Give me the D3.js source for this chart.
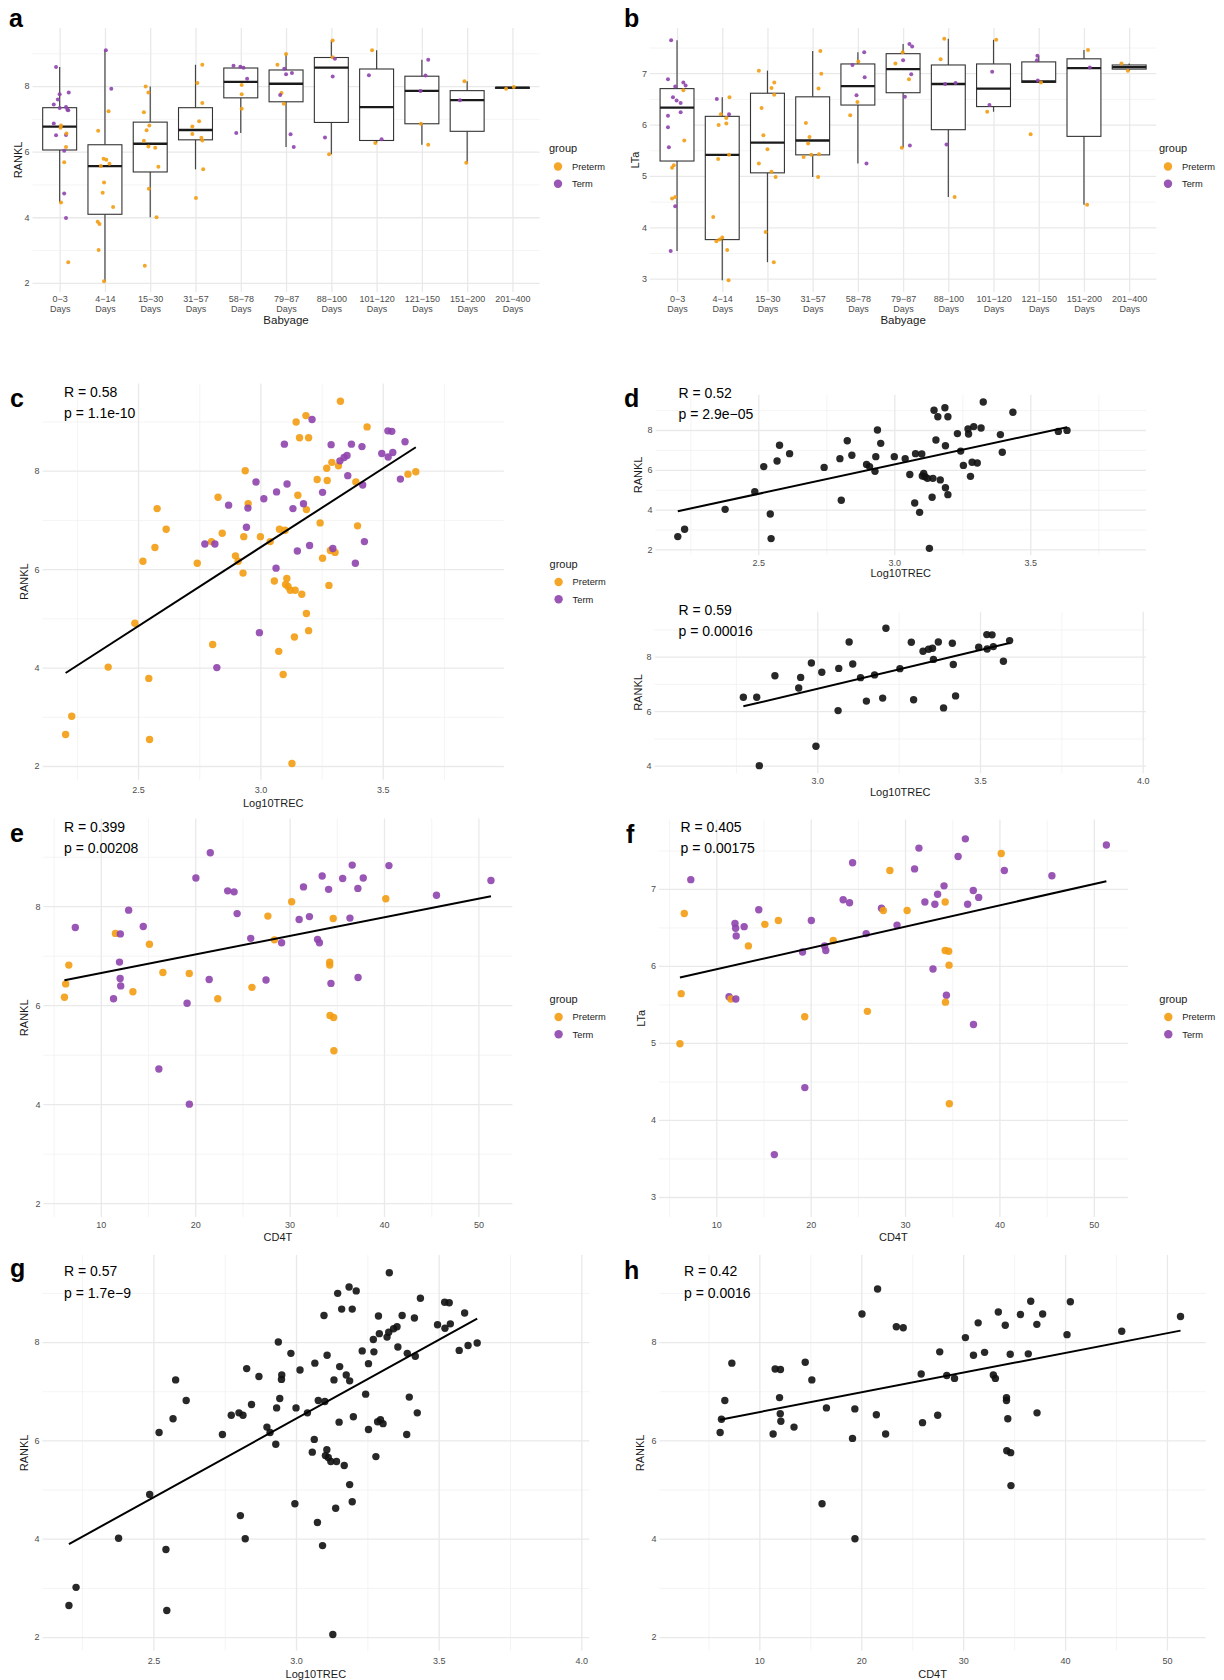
<!DOCTYPE html>
<html>
<head>
<meta charset="utf-8">
<script src="https://cdn.jsdelivr.net/npm/d3@7"></script>
<style>
  body { margin: 0; background: #fff; }
  svg { display: block; }
</style>
</head>
<body>
<svg id="fig" width="1224" height="1680"></svg>
<script>
(() => {
  const FONT = '"Liberation Sans", Arial, Helvetica, sans-serif';
  const svg = d3.select("#fig").style("font-family", FONT);

  // ---------------- data ----------------
  const ageCats = ["0−3", "4−14", "15−30", "31−57", "58−78", "79−87", "88−100", "101−120", "121−150", "151−200", "201−400"];
  const groupNames = ["Preterm", "Term"];
  const groupColors = ["#F39C12", "#8E44AD"];

  // box stats per age class: q1, median, q3, lower whisker, upper whisker
  const ranklBox = [
    [6.05, 6.76, 7.34, 4.45, 8.58],
    [4.09, 5.56, 6.21, 2.05, 9.09],
    [5.38, 6.24, 6.90, 4.00, 7.99],
    [6.36, 6.66, 7.34, 5.46, 8.65],
    [7.64, 8.13, 8.55, 6.57, 8.62],
    [7.52, 8.07, 8.49, 6.14, 8.98],
    [6.89, 8.56, 8.87, 5.92, 9.39],
    [6.34, 7.36, 8.52, 6.26, 9.09],
    [6.85, 7.85, 8.30, 6.21, 8.80],
    [6.62, 7.57, 7.86, 5.66, 8.15],
    [7.93, 7.95, 7.96, 7.92, 7.97]
  ];
  const ltaBox = [
    [5.29, 6.33, 6.70, 3.54, 7.64],
    [3.76, 5.41, 6.16, 2.97, 6.53],
    [5.06, 5.65, 6.61, 3.32, 7.05],
    [5.41, 5.69, 6.54, 4.98, 7.43],
    [6.38, 6.75, 7.18, 5.24, 7.41],
    [6.62, 7.08, 7.38, 5.55, 7.57],
    [5.90, 6.79, 7.16, 4.59, 7.67],
    [6.35, 6.70, 7.18, 6.25, 7.65],
    [6.82, 6.84, 7.22, 6.82, 7.34],
    [5.77, 7.10, 7.28, 4.44, 7.45],
    [7.08, 7.12, 7.16, 7.05, 7.19]
  ];

  // jittered points: [age class, value, group (0 Preterm, 1 Term), jitter offset]
  const ranklAgePts = [
    [0,8.58,1,-0.08],[0,7.75,1,0],[0,7.80,1,0.20],[0,7.44,1,-0.13],[0,7.59,1,-0.04],[0,7.33,1,0],
    [0,7.36,1,0.14],[0,7.28,1,0.17],[0,7.26,1,0.19],[0,6.86,1,-0.13],[0,6.50,1,-0.08],[0,6.51,1,0.14],
    [0,6.03,1,0.10],[0,4.72,1,0.10],[0,3.98,1,0.14],[0,6.80,0,0.03],[0,6.73,0,0.02],[0,6.55,0,0.15],
    [0,6.14,0,0.14],[0,5.68,0,0.10],[0,4.45,0,0.03],[0,2.63,0,0.19],
    [1,9.09,1,0.02],[1,7.92,1,0.14],[1,7.23,0,0.08],[1,6.64,0,-0.15],[1,5.78,0,-0.03],[1,5.75,0,0.03],
    [1,5.63,0,0.10],[1,5.56,0,-0.09],[1,5.06,0,-0.02],[1,4.75,0,-0.05],[1,4.31,0,0.18],[1,3.86,0,-0.16],
    [1,3.79,0,-0.12],[1,3.00,0,-0.14],[1,2.05,0,-0.02],
    [2,7.99,0,-0.10],[2,7.80,0,-0.04],[2,7.20,0,-0.14],[2,6.80,0,-0.02],[2,6.65,0,-0.08],[2,6.33,0,-0.14],
    [2,6.16,0,-0.04],[2,6.12,0,0.11],[2,5.54,0,0.18],[2,4.87,0,-0.03],[2,4.00,0,0.14],[2,2.52,0,-0.12],
    [3,8.65,0,0.15],[3,8.09,0,0.04],[3,7.48,0,0.15],[3,6.93,0,0.08],[3,6.77,0,-0.07],[3,6.54,0,-0.07],
    [3,6.42,0,0.13],[3,6.34,0,0.15],[3,5.46,0,0.17],[3,4.59,0,0.01],
    [4,8.62,1,-0.16],[4,8.59,1,-0.01],[4,8.56,1,0.06],[4,8.22,1,0.14],[4,8.03,0,0.02],[4,7.75,0,0.02],
    [4,7.31,0,0.02],[4,6.57,1,-0.10],
    [5,8.98,0,0],[5,8.65,0,-0.19],[5,8.53,1,-0.04],[5,8.36,1,0],[5,8.40,1,0.13],[5,7.79,0,-0.10],
    [5,7.73,1,-0.13],[5,7.46,0,-0.05],[5,6.53,1,0.10],[5,6.14,1,0.17],
    [6,9.39,0,0.03],[6,8.88,0,0.03],[6,8.83,1,0.08],[6,8.29,1,0.03],[6,6.43,1,-0.14],[6,5.92,0,-0.05],
    [7,9.09,0,-0.10],[7,8.33,1,-0.17],[7,6.38,1,0.11],[7,6.26,0,-0.03],
    [8,8.80,1,0.14],[8,8.32,1,0.08],[8,7.85,1,-0.03],[8,6.85,0,-0.02],[8,6.21,0,0.14],
    [9,8.15,0,-0.06],[9,7.57,1,-0.16],[9,5.66,0,-0.02],
    [10,7.92,0,-0.14],[10,7.97,0,0.03]
  ];
  const ltaAgePts = [
    [0,7.64,1,-0.13],[0,6.88,1,-0.20],[0,6.74,1,-0.04],[0,6.82,1,0.14],[0,6.76,1,0.19],[0,6.67,0,0.14],
    [0,6.53,1,-0.09],[0,6.47,1,-0.01],[0,6.42,1,0.08],[0,6.24,1,0.08],[0,6.17,1,-0.20],[0,5.95,1,-0.20],
    [0,5.69,0,0.16],[0,5.56,1,-0.18],[0,5.21,0,-0.07],[0,5.16,0,-0.11],[0,4.59,0,-0.04],[0,4.56,0,-0.11],
    [0,4.41,1,-0.04],[0,3.54,1,-0.14],
    [1,6.50,1,-0.12],[1,6.53,0,0.16],[1,6.20,0,-0.03],[1,6.20,1,0.15],[1,6.13,0,0.09],[1,6.02,0,0.09],
    [1,5.99,0,-0.08],[1,5.41,0,0.15],[1,5.33,0,-0.09],[1,4.20,0,-0.20],[1,3.80,0,0],[1,3.76,0,-0.06],
    [1,3.73,0,-0.13],[1,3.56,0,0.11],[1,2.97,0,0.14],
    [2,7.05,0,-0.19],[2,6.82,0,0.15],[2,6.71,0,0.09],[2,6.58,0,0.15],[2,6.32,0,-0.13],[2,5.79,0,-0.09],
    [2,5.52,0,0],[2,5.24,0,-0.19],[2,5.08,0,0.09],[2,4.98,0,0.18],[2,3.91,0,-0.04],[2,3.32,0,0.14],
    [3,7.43,0,0.17],[3,6.99,0,0.19],[3,6.70,0,0.13],[3,6.03,0,-0.15],[3,5.76,0,-0.07],[3,5.63,0,-0.10],
    [3,5.42,0,0.14],[3,5.41,0,-0.03],[3,5.37,0,-0.20],[3,4.98,0,0.12],
    [4,7.41,1,0.14],[4,7.23,0,0.01],[4,7.16,1,-0.12],[4,6.92,1,0.15],[4,6.57,1,-0.03],[4,6.44,0,-0.01],
    [4,6.18,0,-0.17],[4,5.24,1,0.19],
    [5,7.57,1,0.14],[5,7.52,1,0.20],[5,7.41,0,-0.01],[5,7.19,0,-0.17],[5,7.25,1,0],[5,6.98,1,0.18],
    [5,6.88,0,0.13],[5,6.54,1,0.04],[5,5.59,1,0.15],[5,5.55,0,-0.03],
    [6,7.67,0,-0.09],[6,7.27,0,-0.17],[6,6.79,1,-0.07],[6,6.81,1,0.16],[6,5.61,1,-0.04],[6,4.59,0,0.14],
    [7,7.65,0,0.06],[7,7.03,1,-0.03],[7,6.38,1,-0.09],[7,6.25,0,-0.14],
    [8,7.34,1,-0.03],[8,7.25,1,-0.04],[8,6.86,1,-0.02],[8,6.82,0,0.05],[8,5.81,0,-0.18],
    [9,7.45,0,0.09],[9,7.11,1,0.13],[9,4.44,0,0.07],
    [10,7.19,0,-0.17],[10,7.05,0,-0.03]
  ];

  // Log10TREC vs RANKL: [log10TREC, RANKL]
  const pretermTrec = [
    [2.204,2.64],[2.229,3.01],[2.378,4.01],[2.487,4.90],[2.520,6.16],[2.544,3.78],[2.547,2.54],[2.569,6.44],
    [2.578,7.23],[2.615,6.81],[2.742,6.12],[2.800,6.56],[2.805,4.47],[2.827,7.46],[2.844,6.73],[2.898,6.27],
    [2.909,6.16],[2.929,5.92],[2.932,6.66],[2.938,8.00],[2.950,7.33],[3.000,6.66],[3.040,6.56],[3.057,5.76],
    [3.075,4.33],[3.078,6.81],[3.093,3.86],[3.101,6.79],[3.103,5.69],[3.108,5.81],[3.113,5.65],[3.122,5.57],
    [3.129,2.05],[3.142,5.57],[3.139,4.62],[3.146,8.99],[3.153,7.50],[3.160,8.67],[3.169,5.49],[3.186,9.12],
    [3.188,7.21],[3.188,5.10],[3.197,8.67],[3.197,4.75],[3.232,7.82],[3.244,6.94],[3.254,6.22],[3.271,8.05],
    [3.273,7.80],[3.280,5.67],[3.286,6.38],[3.292,8.17],[3.305,6.34],[3.319,8.10],[3.327,9.41],[3.390,7.77],
    [3.397,6.88],[3.436,8.89],[3.603,7.93],[3.635,7.98]
  ];
  const termTrec = [
    [2.773,6.51],[2.814,6.51],[2.822,4.00],[2.870,7.30],[2.943,6.85],[2.949,7.24],[2.982,7.77],[2.996,4.71],
    [3.014,7.43],[3.064,6.02],[3.066,7.57],[3.098,8.54],[3.109,7.73],[3.133,7.23],[3.151,6.37],[3.176,7.33],
    [3.201,6.48],[3.211,9.04],[3.254,7.56],[3.289,8.53],[3.296,6.42],[3.325,8.20],[3.342,8.27],[3.354,8.31],
    [3.357,7.90],[3.372,8.54],[3.388,6.12],[3.415,8.49],[3.418,7.71],[3.425,6.56],[3.496,8.35],[3.521,8.81],
    [3.522,8.28],[3.537,8.80],[3.541,8.37],[3.572,7.83],[3.591,8.59]
  ];

  // CD4T samples (panels e, f, h)
  const cd4t = [6.15,6.28,6.61,7.30,11.35,11.55,12.07,11.98,12.05,12.11,12.95,13.40,14.50,15.15,16.15,16.58,
    19.14,19.37,19.38,20.07,21.48,21.60,22.39,23.44,24.12,24.44,25.88,26.01,27.50,27.70,28.39,29.15,30.22,
    31.01,31.47,32.10,32.96,33.16,33.45,34.13,34.25,34.25,34.38,34.28,34.66,34.69,34.62,35.62,36.39,36.63,
    37.23,37.25,37.80,40.19,40.52,45.56,51.33];
  const cd4Rankl = [6.16,6.43,6.81,7.57,6.13,7.45,7.44,6.87,6.54,6.39,7.92,6.27,7.59,7.23,4.71,6.66,
    6.04,6.64,4.00,8.57,6.52,9.08,6.13,8.31,8.29,7.85,7.35,6.36,6.51,7.80,7.32,7.26,8.09,
    7.73,8.39,7.79,7.33,7.26,8.61,8.34,6.87,6.81,6.44,5.79,5.75,5.08,7.75,8.56,7.76,8.83,
    8.36,6.56,8.57,8.15,8.82,8.22,8.52];
  const cd4Lta = [4.99,5.64,6.68,7.12,5.60,5.57,5.57,6.55,6.49,6.39,6.51,6.26,6.73,6.54,3.55,6.59,
    6.18,5.34,4.42,6.59,6.26,6.20,6.33,6.86,6.82,7.34,6.42,5.41,6.75,6.72,7.24,6.53,6.72,
    7.26,7.53,6.83,5.96,6.80,6.93,7.04,6.83,6.20,5.62,5.53,6.01,4.21,6.19,7.42,7.65,6.80,
    6.98,5.24,6.89,7.46,7.24,7.17,7.57];
  const cd4Group = [0,0,0,1,1,0,1,1,1,1,1,0,1,0,1,0,
    1,0,1,1,1,1,0,1,1,1,1,0,1,0,0,1,0,
    1,1,1,1,1,1,1,0,0,1,0,0,0,0,1,1,1,
    1,1,1,0,1,1,1];
  const notInH = [10, 25]; // samples shown in e but not in h

  // ---------------- helpers ----------------
  function lm(pairs) {
    const mx = d3.mean(pairs, d => d[0]), my = d3.mean(pairs, d => d[1]);
    let sxy = 0, sxx = 0;
    pairs.forEach(([a, b]) => { sxy += (a - mx) * (b - my); sxx += (a - mx) * (a - mx); });
    const slope = sxy / sxx;
    return { slope, icpt: my - slope * mx };
  }

  function grid(g, x, y, p) {
    const [L, R, T, B] = p.rect;
    const addV = (vals, col, w) => g.append("g").attr("transform", `translate(0,${B})`)
      .call(d3.axisBottom(x).tickValues(vals).tickSize(-(B - T)).tickFormat(""))
      .call(a => a.select(".domain").remove())
      .call(a => a.selectAll("line").attr("stroke", col).attr("stroke-width", w));
    const addH = (vals, col, w) => g.append("g").attr("transform", `translate(${L},0)`)
      .call(d3.axisLeft(y).tickValues(vals).tickSize(-(R - L)).tickFormat(""))
      .call(a => a.select(".domain").remove())
      .call(a => a.selectAll("line").attr("stroke", col).attr("stroke-width", w));
    addH(p.yMinor, "#f1f1f1", 0.8);
    addV(p.xMinor || [], "#f1f1f1", 0.8);
    addH(p.yTicks, "#e9e9e9", 1.3);
    addV(p.xTicks, "#e9e9e9", 1.3);
  }

  function yAxis(g, y, p) {
    g.append("g").attr("transform", `translate(${p.rect[0]},0)`)
      .call(d3.axisLeft(y).tickValues(p.yTicks).tickSize(0).tickPadding(3).tickFormat(d3.format("d")))
      .call(a => a.select(".domain").remove())
      .call(a => a.selectAll("text").attr("fill", "#4d4d4d").attr("font-size", 9).attr("font-family", FONT));
    const [, , T, B] = p.rect;
    g.append("text")
      .attr("transform", `translate(${p.yTitleX},${(T + B) / 2}) rotate(-90)`)
      .attr("text-anchor", "middle").attr("dy", "0.35em")
      .attr("font-size", 11).attr("fill", "#1a1a1a")
      .text(p.yTitle);
  }

  function letter(t, x, yb) {
    svg.append("text").attr("x", x).attr("y", yb)
      .attr("font-size", 25).attr("font-weight", "bold").attr("fill", "#000")
      .text(t);
  }

  function legend(x0, yb) {
    const g = svg.append("g");
    g.append("text").attr("x", x0).attr("y", yb).attr("font-size", 11).attr("fill", "#1a1a1a").text("group");
    groupNames.forEach((n, i) => {
      const cy = yb + 14.5 + i * 17.3;
      g.append("circle").attr("cx", x0 + 9).attr("cy", cy).attr("r", 4.2)
        .attr("fill", groupColors[i]).attr("fill-opacity", 0.9);
      g.append("text").attr("x", x0 + 23).attr("y", cy + 3.3)
        .attr("font-size", 9.3).attr("fill", "#1a1a1a").text(n);
    });
  }

  // ---------------- box panels (a, b) ----------------
  function boxPanel(p) {
    const [L, R, T, B] = p.rect;
    const x = d3.scaleLinear().domain([-0.6, ageCats.length - 0.4]).range([L, R]);
    const y = d3.scaleLinear().domain(p.yDomain).range([B, T]);
    const g = svg.append("g");
    grid(g, x, y, { ...p, xTicks: d3.range(ageCats.length), xMinor: [] });
    yAxis(g, y, p);

    const hw = x(0.375) - x(0);
    const boxes = g.append("g").selectAll("g").data(p.box).join("g");
    boxes.append("line")
      .attr("x1", (d, i) => x(i)).attr("x2", (d, i) => x(i))
      .attr("y1", d => y(d[4])).attr("y2", d => y(d[2]))
      .attr("stroke", "#444").attr("stroke-width", 1.2);
    boxes.append("line")
      .attr("x1", (d, i) => x(i)).attr("x2", (d, i) => x(i))
      .attr("y1", d => y(d[0])).attr("y2", d => y(d[3]))
      .attr("stroke", "#444").attr("stroke-width", 1.2);
    boxes.append("rect")
      .attr("x", (d, i) => x(i) - hw).attr("width", 2 * hw)
      .attr("y", d => y(d[2])).attr("height", d => Math.max(1, y(d[0]) - y(d[2])))
      .attr("fill", "#fff").attr("stroke", "#333").attr("stroke-width", 1.1);
    boxes.append("line")
      .attr("x1", (d, i) => x(i) - hw).attr("x2", (d, i) => x(i) + hw)
      .attr("y1", d => y(d[1])).attr("y2", d => y(d[1]))
      .attr("stroke", "#1a1a1a").attr("stroke-width", 2.3);

    g.append("g").selectAll("circle").data(p.pts).join("circle")
      .attr("cx", d => x(d[0] + d[3])).attr("cy", d => y(d[1])).attr("r", 2)
      .attr("fill", d => groupColors[d[2]]).attr("fill-opacity", 0.9);

    const xa = g.append("g").attr("transform", `translate(0,${B})`)
      .call(d3.axisBottom(x).tickValues(d3.range(ageCats.length)).tickSize(0).tickFormat(""))
      .call(a => a.select(".domain").remove());
    xa.selectAll(".tick text").remove();
    xa.selectAll(".tick").append("text")
      .attr("text-anchor", "middle").attr("font-size", 9).attr("fill", "#4d4d4d").attr("font-family", FONT)
      .selectAll("tspan").data(d => [ageCats[d], "Days"]).join("tspan")
      .attr("x", 0).attr("y", (d, i) => 9.5 + i * 10.5).text(d => d);
    g.append("text").attr("x", (L + R) / 2).attr("y", B + 31.5)
      .attr("text-anchor", "middle").attr("font-size", 11.5).attr("fill", "#1a1a1a").text("Babyage");
  }

  // ---------------- scatter panels (c-h) ----------------
  function scatterPanel(p) {
    const [L, R, T, B] = p.rect;
    const x = d3.scaleLinear().domain(p.xDomain).range([L, R]);
    const y = d3.scaleLinear().domain(p.yDomain).range([B, T]);
    const g = svg.append("g");
    grid(g, x, y, p);
    yAxis(g, y, p);

    g.append("g").attr("transform", `translate(0,${B})`)
      .call(d3.axisBottom(x).tickValues(p.xTicks).tickSize(0).tickPadding(p.tickDy - 6.4).tickFormat(d3.format(p.xFmt)))
      .call(a => a.select(".domain").remove())
      .call(a => a.selectAll("text").attr("fill", "#4d4d4d").attr("font-size", 9).attr("font-family", FONT));
    g.append("text").attr("x", (L + R) / 2).attr("y", B + p.titleDy)
      .attr("text-anchor", "middle").attr("font-size", 11).attr("fill", "#1a1a1a").text(p.xTitle);

    g.append("g").selectAll("circle").data(p.pts).join("circle")
      .attr("cx", d => x(d[0])).attr("cy", d => y(d[1])).attr("r", 3.7)
      .attr("fill", d => d[2] == null ? "#111" : groupColors[d[2]])
      .attr("fill-opacity", 0.9);

    const fit = lm(p.pts);
    const ext = d3.extent(p.pts, d => d[0]);
    g.append("path")
      .datum(ext.map(v => [v, fit.icpt + fit.slope * v]))
      .attr("d", d3.line().x(d => x(d[0])).y(d => y(d[1])))
      .attr("stroke", "#000").attr("stroke-width", 2).attr("fill", "none");

    g.selectAll(".stat").data(p.stats).join("text")
      .attr("x", p.statsX).attr("y", (d, i) => p.statsY + i * 21.3)
      .attr("font-size", 14).attr("fill", "#000").text(d => d);
  }

  const yMaj9 = [2, 4, 6, 8], yMin9 = [3, 5, 7, 9];
  const trecMaj = [2.5, 3, 3.5], trecMin = [2.25, 2.75, 3.25, 3.75];
  const cdMaj = [10, 20, 30, 40, 50], cdMin = [5, 15, 25, 35, 45];
  const ltaMaj = [3, 4, 5, 6, 7], ltaMin = [3.5, 4.5, 5.5, 6.5, 7.5];

  // a
  boxPanel({ rect: [32.5, 539.6, 28, 292], yDomain: [1.72, 9.77], yTicks: yMaj9, yMinor: yMin9,
    yTitle: "RANKL", yTitleX: 18.4, box: ranklBox, pts: ranklAgePts });
  letter("a", 9, 27);
  legend(549, 152);

  // b
  boxPanel({ rect: [649.9, 1156.3, 28, 292], yDomain: [2.74, 7.88], yTicks: ltaMaj, yMinor: ltaMin,
    yTitle: "LTa", yTitleX: 635.4, box: ltaBox, pts: ltaAgePts });
  letter("b", 624, 27);
  legend(1159, 152);

  const allTrec = pretermTrec.map(d => [d[0], d[1], 0]).concat(termTrec.map(d => [d[0], d[1], 1]));

  // c
  scatterPanel({ rect: [42.6, 503.9, 383.6, 779.8], xDomain: [2.11, 3.995], yDomain: [1.72, 9.77],
    xTicks: trecMaj, xMinor: trecMin, yTicks: yMaj9, yMinor: yMin9, xFmt: ".1f",
    pts: allTrec, xTitle: "Log10TREC", yTitle: "RANKL", yTitleX: 24.5, tickDy: 13.5, titleDy: 26.7,
    stats: ["R = 0.58", "p = 1.1e-10"], statsX: 64, statsY: 397 });
  letter("c", 10, 407);
  legend(549.6, 567.5);

  // d (top: preterm, bottom: term)
  scatterPanel({ rect: [655.5, 1145.9, 394.8, 554.9], xDomain: [2.122, 3.925], yDomain: [1.72, 9.77],
    xTicks: trecMaj, xMinor: trecMin, yTicks: yMaj9, yMinor: yMin9, xFmt: ".1f",
    pts: pretermTrec.map(d => [d[0], d[1], null]), xTitle: "Log10TREC", yTitle: "RANKL", yTitleX: 638.5,
    tickDy: 11.6, titleDy: 21.6, stats: ["R = 0.52", "p = 2.9e−05"], statsX: 678.5, statsY: 397.5 });
  letter("d", 624, 407);
  scatterPanel({ rect: [654.5, 1146, 611.7, 773.3], xDomain: [2.5, 4.01], yDomain: [3.72, 9.65],
    xTicks: [3, 3.5, 4], xMinor: [2.75, 3.25, 3.75], yTicks: [4, 6, 8], yMinor: [5, 7, 9], xFmt: ".1f",
    pts: termTrec.map(d => [d[0], d[1], null]), xTitle: "Log10TREC", yTitle: "RANKL", yTitleX: 638.5,
    tickDy: 10.7, titleDy: 22.7, stats: ["R = 0.59", "p = 0.00016"], statsX: 678.5, statsY: 615 });

  // e
  scatterPanel({ rect: [43.4, 512.4, 818.6, 1217], xDomain: [3.92, 53.6], yDomain: [1.72, 9.77],
    xTicks: cdMaj, xMinor: cdMin, yTicks: yMaj9, yMinor: yMin9, xFmt: "d",
    pts: cd4t.map((v, i) => [v, cd4Rankl[i], cd4Group[i]]), xTitle: "CD4T", yTitle: "RANKL", yTitleX: 24.5,
    tickDy: 11.5, titleDy: 24, stats: ["R = 0.399", "p = 0.00208"], statsX: 64, statsY: 832 });
  letter("e", 10, 842);
  legend(549.6, 1002.5);

  // f
  scatterPanel({ rect: [658.9, 1127.8, 819.6, 1217], xDomain: [3.92, 53.6], yDomain: [2.74, 7.9],
    xTicks: cdMaj, xMinor: cdMin, yTicks: ltaMaj, yMinor: ltaMin, xFmt: "d",
    pts: cd4t.map((v, i) => [v, cd4Lta[i], cd4Group[i]]), xTitle: "CD4T", yTitle: "LTa", yTitleX: 641,
    tickDy: 11.5, titleDy: 24, stats: ["R = 0.405", "p = 0.00175"], statsX: 680.5, statsY: 832 });
  letter("f", 626, 843);
  legend(1159.3, 1002.5);

  // g
  scatterPanel({ rect: [42.4, 589.3, 1255, 1650.8], xDomain: [2.111, 4.028], yDomain: [1.72, 9.77],
    xTicks: [2.5, 3, 3.5, 4], xMinor: trecMin, yTicks: yMaj9, yMinor: yMin9, xFmt: ".1f",
    pts: allTrec.map(d => [d[0], d[1], null]), xTitle: "Log10TREC", yTitle: "RANKL", yTitleX: 24.5,
    tickDy: 13.7, titleDy: 26.7, stats: ["R = 0.57", "p = 1.7e−9"], statsX: 64, statsY: 1276.3 });
  letter("g", 10, 1277);

  // h
  scatterPanel({ rect: [659.5, 1205.7, 1255, 1650.8], xDomain: [0.2, 53.8], yDomain: [1.72, 9.77],
    xTicks: cdMaj, xMinor: cdMin, yTicks: yMaj9, yMinor: yMin9, xFmt: "d",
    pts: cd4t.map((v, i) => [v, cd4Rankl[i], null]).filter((d, i) => !notInH.includes(i)),
    xTitle: "CD4T", yTitle: "RANKL", yTitleX: 640, tickDy: 13.7, titleDy: 26.7,
    stats: ["R = 0.42", "p = 0.0016"], statsX: 684, statsY: 1276.3 });
  letter("h", 624, 1279);
})();
</script>
</body>
</html>
